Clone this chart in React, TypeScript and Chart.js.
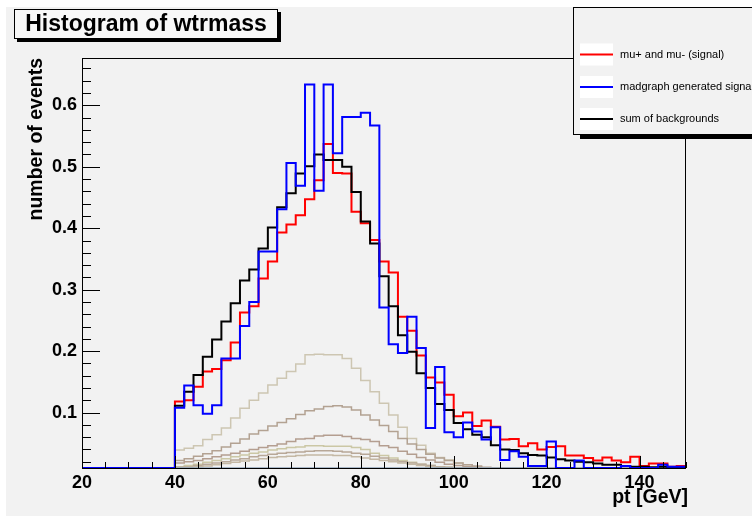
import { useEffect, useRef } from 'react';
import { Chart, registerables } from 'chart.js';

Chart.register(...registerables);

// ---------- data ----------
const binLowEdges = [
  20, 22, 24, 26, 28, 30, 32, 34, 36, 38,
  40, 42, 44, 46, 48, 50, 52, 54, 56, 58,
  60, 62, 64, 66, 68, 70, 72, 74, 76, 78,
  80, 82, 84, 86, 88, 90, 92, 94, 96, 98,
  100, 102, 104, 106, 108, 110, 112, 114, 116, 118,
  120, 122, 124, 126, 128, 130, 132, 134, 136, 138,
  140, 142, 144, 146, 148,
];
const xLowerEdge = 20;
const xUpperEdge = 150;

const xTickValues = [20, 40, 60, 80, 100, 120, 140];
const yTickValues = [0.1, 0.2, 0.3, 0.4, 0.5, 0.6];
const yTickLabels = ['0.1', '0.2', '0.3', '0.4', '0.5', '0.6'];

const signalMuMu = [
  0, 0, 0, 0, 0, 0, 0, 0, 0, 0,
  0.118, 0.120, 0.142, 0.167, 0.171, 0.185, 0.214, 0.263, 0.273, 0.318,
  0.346, 0.393, 0.406, 0.421, 0.447, 0.478, 0.537, 0.490, 0.489, 0.427,
  0.408, 0.381, 0.346, 0.328, 0.256, 0.233, 0.193, 0.157, 0.149, 0.129,
  0.094, 0.100, 0.078, 0.087, 0.077, 0.056, 0.057, 0.045, 0.050, 0.040,
  0.044, 0.045, 0.030, 0.030, 0.026, 0.022, 0.027, 0.022, 0.019, 0.028,
  0.013, 0.017, 0.017, 0.012, 0.013,
];

const madgraphSignal = [
  0, 0, 0, 0, 0, 0, 0, 0, 0, 0,
  0.108, 0.144, 0.112, 0.098, 0.112, 0.188, 0.188, 0.241, 0.280, 0.362,
  0.362, 0.431, 0.506, 0.469, 0.634, 0.461, 0.634, 0.522, 0.581, 0.581,
  0.588, 0.567, 0.271, 0.211, 0.197, 0.256, 0.205, 0.075, 0.174, 0.068,
  0.060, 0.084, 0.069, 0.056, 0.076, 0.023, 0.037, 0.028, 0.013, 0.013,
  0.053, 0, 0, 0.022, 0, 0, 0, 0, 0.013, 0,
  0, 0, 0.015, 0.012, 0.012,
];

const sumBackgrounds = [
  0, 0, 0, 0, 0, 0, 0, 0, 0, 0,
  0.111, 0.134, 0.161, 0.191, 0.219, 0.248, 0.278, 0.315, 0.333, 0.367,
  0.401, 0.434, 0.457, 0.489, 0.501, 0.520, 0.511, 0.511, 0.500, 0.459,
  0.411, 0.375, 0.322, 0.273, 0.226, 0.199, 0.164, 0.140, 0.114, 0.104,
  0.083, 0.073, 0.064, 0.060, 0.047, 0.040, 0.039, 0.034, 0.031, 0.030,
  0.027, 0.024, 0.022, 0.020, 0.019, 0.017, 0.015, 0.015, 0.013, 0.012,
  0.012, 0.011, 0.012, 0.011, 0.011,
];

const backgroundA = [
  0, 0, 0, 0, 0, 0, 0, 0, 0, 0,
  0.039, 0.042, 0.046, 0.056, 0.064, 0.075, 0.091, 0.107, 0.120, 0.132,
  0.145, 0.156, 0.167, 0.179, 0.194, 0.195, 0.194, 0.194, 0.188, 0.172,
  0.152, 0.134, 0.115, 0.096, 0.076, 0.058, 0.047, 0.034, 0.027, 0.023,
  0.018, 0.015, 0.012, 0.010, 0, 0, 0, 0, 0, 0,
  0, 0, 0, 0, 0, 0, 0, 0, 0, 0,
  0, 0, 0, 0, 0,
];

const backgroundB = [
  0, 0, 0, 0, 0, 0, 0, 0, 0, 0,
  0.022, 0.025, 0.029, 0.033, 0.038, 0.044, 0.050, 0.057, 0.065, 0.071,
  0.078, 0.084, 0.090, 0.097, 0.103, 0.106, 0.110, 0.111, 0.109, 0.104,
  0.096, 0.088, 0.079, 0.069, 0.058, 0.049, 0.040, 0.032, 0.026, 0.022,
  0.018, 0.015, 0.013, 0.011, 0, 0, 0, 0, 0, 0,
  0, 0, 0, 0, 0, 0, 0, 0, 0, 0,
  0, 0, 0, 0, 0,
];

const backgroundC = [
  0, 0, 0, 0, 0, 0, 0, 0, 0, 0,
  0.018, 0.020, 0.022, 0.025, 0.028, 0.031, 0.034, 0.037, 0.040, 0.043,
  0.046, 0.049, 0.053, 0.057, 0.058, 0.062, 0.063, 0.063, 0.061, 0.058,
  0.056, 0.053, 0.046, 0.043, 0.037, 0.032, 0.027, 0.023, 0.019, 0.016,
  0.014, 0.012, 0.011, 0, 0, 0, 0, 0, 0, 0,
  0, 0, 0, 0, 0, 0, 0, 0, 0, 0,
  0, 0, 0, 0, 0,
];

const backgroundD = [
  0, 0, 0, 0, 0, 0, 0, 0, 0, 0,
  0.012, 0.014, 0.016, 0.019, 0.022, 0.025, 0.028, 0.031, 0.034, 0.036,
  0.039, 0.041, 0.043, 0.044, 0.046, 0.046, 0.045, 0.045, 0.045, 0.043,
  0.040, 0.034, 0.030, 0.026, 0.022, 0.019, 0.016, 0.014, 0.012, 0.011,
  0, 0, 0, 0, 0, 0, 0, 0, 0, 0,
  0, 0, 0, 0, 0, 0, 0, 0, 0, 0,
  0, 0, 0, 0, 0,
];

const backgroundE = [
  0, 0, 0, 0, 0, 0, 0, 0, 0, 0,
  0.011, 0.012, 0.014, 0.016, 0.018, 0.020, 0.023, 0.025, 0.028, 0.030,
  0.032, 0.034, 0.035, 0.036, 0.037, 0.038, 0.038, 0.037, 0.036, 0.034,
  0.032, 0.029, 0.026, 0.023, 0.020, 0.018, 0.016, 0.014, 0.012, 0.011,
  0, 0, 0, 0, 0, 0, 0, 0, 0, 0,
  0, 0, 0, 0, 0, 0, 0, 0, 0, 0,
  0, 0, 0, 0, 0,
];

const backgroundF = [
  0, 0, 0, 0, 0, 0, 0, 0, 0, 0,
  0.010, 0.011, 0.012, 0.013, 0.015, 0.017, 0.019, 0.021, 0.023, 0.025,
  0.027, 0.028, 0.029, 0.030, 0.031, 0.031, 0.031, 0.030, 0.030, 0.028,
  0.026, 0.024, 0.022, 0.020, 0.018, 0.016, 0.014, 0.012, 0.011, 0.010,
  0, 0, 0, 0, 0, 0, 0, 0, 0, 0,
  0, 0, 0, 0, 0, 0, 0, 0, 0, 0,
  0, 0, 0, 0, 0,
];

const backgroundZero = [
  0, 0, 0, 0, 0, 0, 0, 0, 0, 0,
  0, 0, 0, 0, 0, 0, 0, 0, 0, 0,
  0, 0, 0, 0, 0, 0, 0, 0, 0, 0,
  0, 0, 0, 0, 0, 0, 0, 0, 0, 0,
  0, 0, 0, 0, 0, 0, 0, 0, 0, 0,
  0, 0, 0, 0, 0, 0, 0, 0, 0, 0,
  0, 0, 0, 0, 0,
];

const legendLabels = ['mu+ and mu- (signal)', 'madgraph generated signal', 'sum of backgrounds'];
const titleText = 'Histogram of wtrmass';
const xTitle = 'pt [GeV]';
const yTitle = 'number of events';

const Y_MIN = 0.0098;
const Y_MAX = 0.677;
const BG = '#f2f2f2';

// histogram outline: value i holds over [lowEdge_i, lowEdge_{i+1}]
function histPoints(values: number[]) {
  const pts = [{ x: xLowerEdge, y: Math.max(values[0], Y_MIN) }];
  values.forEach((v, i) => {
    const hi = i + 1 < binLowEdges.length ? binLowEdges[i + 1] : xUpperEdge;
    pts.push({ x: hi, y: Math.max(v, Y_MIN) });
  });
  return pts;
}

function ds(values: number[], color: string, width: number) {
  return {
    data: histPoints(values),
    borderColor: color,
    borderWidth: width,
    stepped: 'after' as const,
    pointRadius: 0,
    fill: false,
    tension: 0,
  };
}

const rootPlugin = {
  id: 'rootDecor',
  beforeDraw(chart: any) {
    const { ctx, width, height } = chart;
    ctx.save();
    ctx.fillStyle = '#ffffff';
    ctx.fillRect(0, 0, width, height);
    ctx.fillStyle = BG;
    ctx.fillRect(6, 7, width - 6, height - 7);
    ctx.restore();
  },
  afterDraw(chart: any) {
    const { ctx, chartArea } = chart;
    const xs = chart.scales.x;
    const ys = chart.scales.y;
    const { left, right, top, bottom } = chartArea;
    ctx.save();
    // frame
    ctx.strokeStyle = '#000';
    ctx.lineWidth = 1;
    ctx.strokeRect(left + 0.5, top + 0.5, right - left - 1, bottom - top);
    // x ticks
    ctx.beginPath();
    for (let v = 20; v <= 150; v += 5) {
      const px = Math.round(xs.getPixelForValue(v)) + 0.5;
      const major = xTickValues.includes(v);
      ctx.moveTo(px, bottom);
      ctx.lineTo(px, bottom - (major ? 12 : 6));
    }
    // y ticks
    for (let k = 1; k <= 33; k++) {
      const v = k * 0.02;
      if (v > Y_MAX) break;
      const py = Math.round(ys.getPixelForValue(v)) + 0.5;
      const major = k % 5 === 0;
      ctx.moveTo(left, py);
      ctx.lineTo(left + (major ? 18 : 9), py);
    }
    ctx.stroke();

    // axis titles
    ctx.fillStyle = '#000';
    ctx.font = 'bold 19.5px "Liberation Sans", Arial, sans-serif';
    ctx.textAlign = 'right';
    ctx.textBaseline = 'middle';
    ctx.fillText(xTitle, 688, 498);
    ctx.save();
    ctx.translate(37, 58);
    ctx.rotate(-Math.PI / 2);
    ctx.fillText(yTitle, 0, 0);
    ctx.restore();

    // title box
    ctx.fillStyle = '#000';
    ctx.fillRect(17, 39, 264, 3);
    ctx.fillRect(278, 12, 3, 30);
    ctx.fillStyle = '#f8f8f8';
    ctx.fillRect(14, 9, 264, 30);
    ctx.strokeStyle = '#000';
    ctx.strokeRect(14.5, 9.5, 263, 29);
    ctx.fillStyle = '#000';
    ctx.font = 'bold 23px "Liberation Sans", Arial, sans-serif';
    ctx.textAlign = 'center';
    ctx.textBaseline = 'middle';
    ctx.fillText(titleText, 146, 25);

    // legend box
    ctx.fillStyle = '#000';
    ctx.fillRect(580, 135, 180, 4);
    ctx.fillStyle = BG;
    ctx.fillRect(573, 7, 190, 128);
    ctx.strokeStyle = '#000';
    ctx.strokeRect(573.5, 7.5, 190, 127);
    const entryColors = ['#ff0000', '#0000ff', '#000000'];
    const entryY = [54.5, 87, 119];
    ctx.font = '11px "Liberation Sans", Arial, sans-serif';
    ctx.textAlign = 'left';
    ctx.textBaseline = 'middle';
    entryColors.forEach((c, i) => {
      ctx.fillStyle = '#ffffff';
      ctx.fillRect(580, entryY[i] - 11, 33, 22);
      ctx.strokeStyle = c;
      ctx.lineWidth = 2;
      ctx.beginPath();
      ctx.moveTo(580, entryY[i]);
      ctx.lineTo(613, entryY[i]);
      ctx.stroke();
      ctx.fillStyle = '#000';
      ctx.fillText(legendLabels[i], 620, entryY[i]);
    });
    ctx.restore();
  },
};

export default function App() {
  const ref = useRef<HTMLCanvasElement | null>(null);
  useEffect(() => {
    document.body.style.margin = '0';
    document.body.style.background = BG;
    const canvas = ref.current;
    if (!canvas) return;
    const chart = new Chart(canvas, {
      type: 'line',
      data: {
        datasets: [
          ds(madgraphSignal, '#0000ff', 2),
          ds(sumBackgrounds, '#000000', 2),
          ds(signalMuMu, '#ff0000', 2),
          ds(backgroundZero, '#8fa3b8', 1.5),
          ds(backgroundF, '#c4b8a4', 1.5),
          ds(backgroundE, '#b8a898', 1.5),
          ds(backgroundD, '#cbc7a5', 1.5),
          ds(backgroundC, '#b49e90', 1.5),
          ds(backgroundB, '#b3a292', 1.5),
          ds(backgroundA, '#cdc6b2', 1.5),
        ] as any,
      },
      options: {
        animation: false,
        responsive: false,
        events: [],
        layout: { padding: { left: 0, top: 58, right: 66, bottom: 0 } },
        plugins: { legend: { display: false }, tooltip: { enabled: false }, title: { display: false } },
        scales: {
          x: {
            type: 'linear',
            min: xLowerEdge,
            max: xUpperEdge,
            grid: { display: false, drawTicks: false },
            border: { display: false },
            afterFit: (s: any) => { s.height = 48; },
            afterBuildTicks: (s: any) => { s.ticks = xTickValues.map((v) => ({ value: v })); },
            ticks: {
              color: '#000',
              padding: 4,
              maxRotation: 0,
              autoSkip: false,
              font: { family: '"Liberation Sans", Arial, sans-serif', size: 18, weight: 'bold' },
            },
          },
          y: {
            type: 'linear',
            min: Y_MIN,
            max: Y_MAX,
            grid: { display: false, drawTicks: false },
            border: { display: false },
            afterFit: (s: any) => { s.width = 82; },
            afterBuildTicks: (s: any) => { s.ticks = yTickValues.map((v) => ({ value: v })); },
            ticks: {
              color: '#000',
              padding: 5,
              autoSkip: false,
              callback: (v: any) => yTickLabels[yTickValues.findIndex((t) => Math.abs(t - v) < 1e-9)] ?? '',
              font: { family: '"Liberation Sans", Arial, sans-serif', size: 18, weight: 'bold' },
            },
          },
        },
      },
      plugins: [rootPlugin],
    });
    return () => chart.destroy();
  }, []);
  return (
    <div style={{ width: 752, height: 516 }}>
      <canvas ref={ref} width={752} height={516} style={{ display: 'block' }} />
    </div>
  );
}
